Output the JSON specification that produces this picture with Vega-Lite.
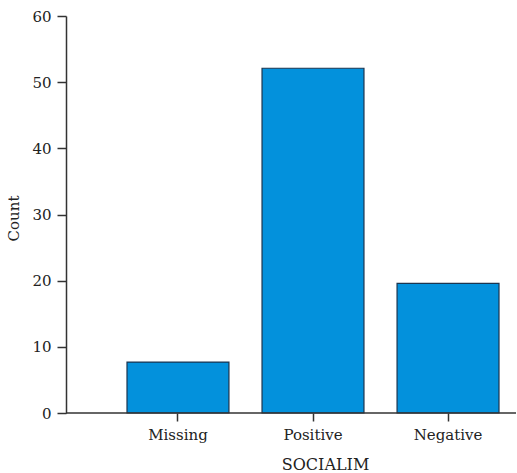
{
  "$schema": "https://vega.github.io/schema/vega-lite/v6.json",
  "autosize": "none",
  "width": 450,
  "height": 397,
  "padding": {"left": 66, "top": 16, "right": 1, "bottom": 60},
  "background": "white",
  "config": {
    "view": {"stroke": null},
    "font": "DejaVu Serif",
    "axis": {
      "grid": false,
      "domainColor": "#333333",
      "tickColor": "#333333",
      "labelColor": "#222222",
      "titleColor": "#222222",
      "labelFont": "DejaVu Serif",
      "titleFont": "DejaVu Serif",
      "titleFontWeight": "normal",
      "domainWidth": 1.5,
      "tickWidth": 1.5
    }
  },
  "data": {
    "values": [
      {"SOCIALIM": "Missing", "Count": 7.7},
      {"SOCIALIM": "Positive", "Count": 52.1},
      {"SOCIALIM": "Negative", "Count": 19.6}
    ]
  },
  "layer": [
    {
      "mark": {"type": "bar", "fill": "#0391dc", "stroke": "#1b3550", "strokeWidth": 1.2},
      "encoding": {
        "x": {
          "field": "SOCIALIM",
          "type": "nominal",
          "sort": ["Missing", "Positive", "Negative"],
          "scale": {"range": [61, 433], "paddingInner": 0.245, "paddingOuter": 0},
          "axis": {
            "title": "SOCIALIM",
            "labelAngle": 0,
            "labelFontSize": 15,
            "titleFontSize": 16,
            "domain": false,
            "tickSize": 8,
            "labelPadding": 6,
            "titlePadding": 14,
            "titleX": 259
          }
        },
        "y": {
          "field": "Count",
          "type": "quantitative",
          "scale": {"domain": [0, 60], "nice": false},
          "axis": {
            "title": "Count",
            "values": [0, 10, 20, 30, 40, 50, 60],
            "labelFontSize": 15,
            "titleFontSize": 15,
            "tickSize": 9,
            "labelPadding": 6,
            "titleX": -45,
            "titleY": 202
          }
        }
      }
    },
    {
      "data": {"values": [{"base": 0}]},
      "mark": {"type": "rule", "color": "#333333", "strokeWidth": 1.5},
      "encoding": {"y": {"field": "base", "type": "quantitative"}}
    }
  ]
}
